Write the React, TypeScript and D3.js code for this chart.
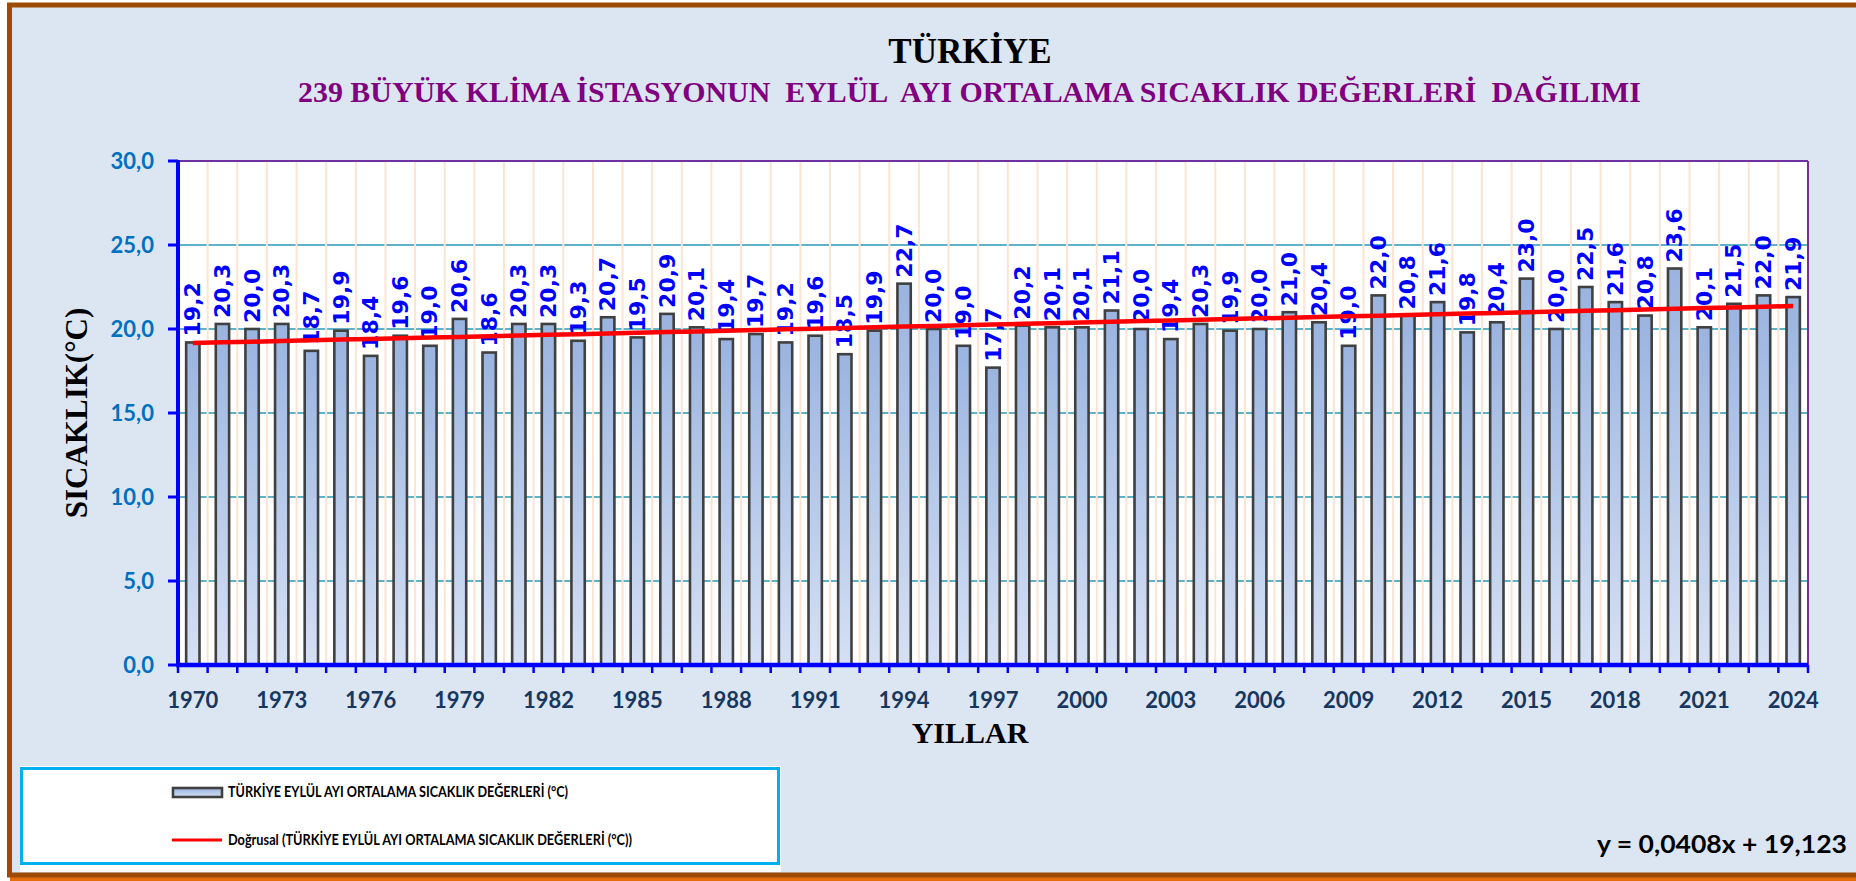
import React from "react";
import * as d3 from "d3";

const years: number[] = [
  1970, 1971, 1972, 1973, 1974, 1975, 1976, 1977, 1978, 1979,
  1980, 1981, 1982, 1983, 1984, 1985, 1986, 1987, 1988, 1989,
  1990, 1991, 1992, 1993, 1994, 1995, 1996, 1997, 1998, 1999,
  2000, 2001, 2002, 2003, 2004, 2005, 2006, 2007, 2008, 2009,
  2010, 2011, 2012, 2013, 2014, 2015, 2016, 2017, 2018, 2019,
  2020, 2021, 2022, 2023, 2024,
];

const temps: number[] = [
  19.2, 20.3, 20.0, 20.3, 18.7, 19.9, 18.4, 19.6, 19.0, 20.6,
  18.6, 20.3, 20.3, 19.3, 20.7, 19.5, 20.9, 20.1, 19.4, 19.7,
  19.2, 19.6, 18.5, 19.9, 22.7, 20.0, 19.0, 17.7, 20.2, 20.1,
  20.1, 21.1, 20.0, 19.4, 20.3, 19.9, 20.0, 21.0, 20.4, 19.0,
  22.0, 20.8, 21.6, 19.8, 20.4, 23.0, 20.0, 22.5, 21.6, 20.8,
  23.6, 20.1, 21.5, 22.0, 21.9,
];

const yTicks: number[] = [0, 5, 10, 15, 20, 25, 30];
const xTickYears: number[] = [
  1970, 1973, 1976, 1979, 1982, 1985, 1988, 1991, 1994, 1997,
  2000, 2003, 2006, 2009, 2012, 2015, 2018, 2021, 2024,
];

const TREND_SLOPE = 0.0408;
const TREND_INTERCEPT = 19.123;

const TITLE = "TÜRKİYE";
const SUBTITLE =
  "239 BÜYÜK KLİMA İSTASYONUN  EYLÜL  AYI ORTALAMA SICAKLIK DEĞERLERİ  DAĞILIMI";
const Y_TITLE = "SICAKLIK(°C)";
const X_TITLE = "YILLAR";
const LEGEND_BAR = "TÜRKİYE EYLÜL AYI ORTALAMA SICAKLIK DEĞERLERİ (°C)";
const LEGEND_LINE = "Doğrusal (TÜRKİYE EYLÜL AYI ORTALAMA SICAKLIK DEĞERLERİ (°C))";
const EQUATION = "y = 0,0408x + 19,123";

const fmt = (v: number) => v.toFixed(1).replace(".", ",");

export default function App() {
  const W = 1856;
  const H = 881;
  const left = 178;
  const right = 1808;
  const top = 161;
  const bottom = 665;

  const x = d3
    .scaleBand<number>()
    .domain(years)
    .range([left, right])
    .paddingInner(0.55)
    .paddingOuter(0.275);
  const step = x.step();
  const y = d3.scaleLinear().domain([0, 30]).range([bottom, top]);

  const cx = (yr: number) => (x(yr) as number) + x.bandwidth() / 2;

  const trendLine = d3
    .line<number>()
    .x((_, i) => cx(years[i]))
    .y((_, i) => y(TREND_SLOPE * (i + 1) + TREND_INTERCEPT));

  const boundaries = d3.range(0, years.length + 1).map((i) => left + i * step);

  const serif = "'Liberation Serif', 'Times New Roman', serif";
  const sans = "Lato, 'Open Sans', sans-serif";
  const labelFont = "'DejaVu Sans', Verdana, sans-serif";

  return (
    <div style={{ position: "fixed", left: 0, top: 0, width: W, height: H, overflow: "hidden", background: "#ffffff" }}>
      <svg width={W} height={H} style={{ display: "block" }}>
        <defs>
          <linearGradient id="barGrad" x1="0" y1="0" x2="0" y2="1">
            <stop offset="0%" stopColor="#9ab4e0" />
            <stop offset="100%" stopColor="#d5e0f4" />
          </linearGradient>
        </defs>

        {/* outer frame */}
        <rect x={10} y={877} width={W} height={4} fill="#e46c0a" />
        <rect x={9.5} y={5} width={W + 20} height={870} fill="#dce6f2" stroke="#9c4a06" strokeWidth={5} />

        {/* titles */}
        <text x={970} y={63} textAnchor="middle" fontFamily={serif} fontWeight="bold" fontSize={35} fill="#000000">
          {TITLE}
        </text>
        <text
          x={298}
          y={102}
          fontFamily={serif}
          fontWeight="bold"
          fontSize={29}
          fill="#800080"
          textLength={1343}
          lengthAdjust="spacingAndGlyphs"
          style={{ whiteSpace: "pre" }}
        >
          {SUBTITLE}
        </text>

        {/* plot area */}
        <rect x={left} y={top} width={right - left} height={bottom - top} fill="#ffffff" />

        {/* horizontal gridlines */}
        {yTicks.filter((t) => t > 0 && t < 30).map((t) => (
          <line key={"hg" + t} x1={left} x2={right} y1={y(t)} y2={y(t)} stroke="#5fb3c8" strokeWidth={2} />
        ))}
        {/* vertical gridlines */}
        {boundaries.slice(1, -1).map((bx, i) => (
          <line key={"vg" + i} x1={bx} x2={bx} y1={top} y2={bottom} stroke="#fde4d2" strokeWidth={2} />
        ))}

        {/* plot border top/right */}
        <line x1={left} x2={right} y1={top} y2={top} stroke="#7030a0" strokeWidth={2} />
        <line x1={right} x2={right} y1={top} y2={bottom} stroke="#7030a0" strokeWidth={2} />

        {/* bars */}
        {years.map((yr, i) => (
          <rect
            key={"b" + yr}
            x={x(yr) as number}
            y={y(temps[i])}
            width={x.bandwidth()}
            height={bottom - y(temps[i])}
            fill="url(#barGrad)"
            stroke="#404040"
            strokeWidth={2.6}
          />
        ))}

        {/* data labels */}
        {years.map((yr, i) => (
          <text
            key={"l" + yr}
            transform={`translate(${cx(yr) + 7.5},${y(temps[i]) - 6}) rotate(-90)`}
            fontFamily={labelFont}
            fontWeight="bold"
            fontSize={22}
            fill="#0000ff"
          >
            {fmt(temps[i])}
          </text>
        ))}

        {/* trend line */}
        <path d={trendLine(years.map((_, i) => i)) || ""} fill="none" stroke="#ff0000" strokeWidth={4.5} />

        {/* axes */}
        <line x1={left} x2={left} y1={top - 1} y2={bottom + 2} stroke="#0000ff" strokeWidth={4} />
        {yTicks.map((t) => (
          <line key={"yt" + t} x1={168} x2={left} y1={y(t)} y2={y(t)} stroke="#0000ff" strokeWidth={3} />
        ))}
        <line x1={left - 2} x2={right} y1={bottom} y2={bottom} stroke="#0000ff" strokeWidth={4.5} />
        {boundaries.map((bx, i) => (
          <line key={"xt" + i} x1={bx} x2={bx} y1={bottom} y2={bottom + 8} stroke="#0000ff" strokeWidth={2.5} />
        ))}

        {/* y tick labels */}
        {yTicks.map((t) => (
          <text
            key={"ytl" + t}
            x={154}
            y={y(t)}
            dy="0.36em"
            textAnchor="end"
            fontFamily={sans}
            fontWeight="bold"
            fontSize={22}
            fill="#0070c0"
          >
            {fmt(t)}
          </text>
        ))}

        {/* x tick labels */}
        {xTickYears.map((yr) => (
          <text
            key={"xtl" + yr}
            x={cx(yr)}
            y={708}
            textAnchor="middle"
            fontFamily={sans}
            fontWeight="bold"
            fontSize={22}
            fill="#17375e"
          >
            {yr}
          </text>
        ))}

        {/* axis titles */}
        <text
          transform={`translate(87,${(top + bottom) / 2}) rotate(-90)`}
          textAnchor="middle"
          fontFamily={serif}
          fontWeight="bold"
          fontSize={31}
          fill="#000000"
        >
          {Y_TITLE}
        </text>
        <text x={970} y={743} textAnchor="middle" fontFamily={serif} fontWeight="bold" fontSize={30} fill="#000000">
          {X_TITLE}
        </text>

        {/* legend */}
        <rect x={20} y={766} width={761} height={106} fill="#ffffff" />
        <rect x={21.5} y={768.5} width={757} height={95} fill="#ffffff" stroke="#00b0f0" strokeWidth={3} />
        <rect x={173} y={788} width={49} height={9} fill="url(#barGrad)" stroke="#404040" strokeWidth={2.6} />
        <text
          x={228}
          y={797}
          fontFamily={sans}
          fontWeight="bold"
          fontSize={15}
          fill="#000000"
          textLength={340}
          lengthAdjust="spacingAndGlyphs"
        >
          {LEGEND_BAR}
        </text>
        <line x1={172} x2={222} y1={840} y2={840} stroke="#ff0000" strokeWidth={3} />
        <text
          x={228}
          y={845}
          fontFamily={sans}
          fontWeight="bold"
          fontSize={15}
          fill="#000000"
          textLength={404}
          lengthAdjust="spacingAndGlyphs"
        >
          {LEGEND_LINE}
        </text>

        {/* equation */}
        <text
          x={1597}
          y={853}
          fontFamily={sans}
          fontWeight="bold"
          fontSize={24}
          fill="#000000"
          textLength={250}
          lengthAdjust="spacingAndGlyphs"
        >
          {EQUATION}
        </text>
      </svg>
    </div>
  );
}
